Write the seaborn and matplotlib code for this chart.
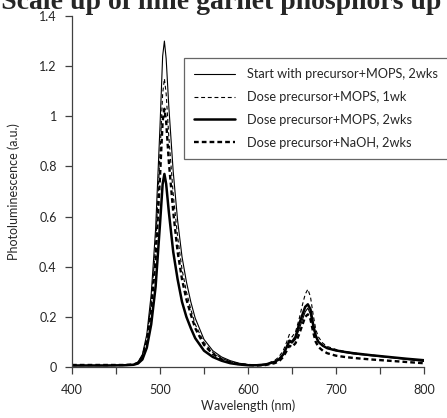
import matplotlib
matplotlib.use("Agg")
import matplotlib.pyplot as plt
import seaborn as sns
import pandas as pd
import numpy as np

wavelength = [400, 420, 440, 460, 470, 475, 480, 485, 490, 495, 500, 503, 505, 507, 510, 515, 520, 525, 530, 535, 540,
              550, 560, 570, 580, 590, 600, 610, 620, 630, 635, 640, 644, 647, 650, 654, 658, 662, 665, 668, 671, 674,
              677, 680, 685, 690, 700, 710, 720, 740, 760, 780, 800]

start_mops_2wks = [.006, .006, .006, .007, .010, .02, .05, .13, .29, .55, .96, 1.24, 1.30, 1.23, 1.04, .78, .585, .44, .34, .26, .195,
                   .11, .065, .04, .025, .015, .01, .008, .01, .02, .03, .05, .08, .10, .095, .11, .15, .19, .22, .235, .21, .16,
                   .12, .10, .085, .075, .065, .058, .052, .045, .038, .03, .022]
dose_mops_1wk = [.006, .006, .006, .007, .010, .018, .045, .115, .255, .485, .85, 1.09, 1.15, 1.09, .92, .69, .52, .39, .30, .23, .17,
                 .098, .058, .035, .021, .013, .009, .008, .012, .025, .04, .065, .10, .13, .12, .14, .19, .25, .29, .31, .28, .21,
                 .15, .12, .095, .082, .07, .062, .056, .048, .04, .032, .025]
dose_mops_2wks = [.006, .006, .006, .007, .009, .014, .03, .077, .17, .32, .57, .73, .77, .73, .62, .46, .35, .26, .20, .155, .115,
                  .065, .04, .025, .015, .01, .007, .007, .01, .02, .03, .05, .08, .105, .10, .12, .17, .21, .24, .25, .23, .17,
                  .125, .10, .085, .075, .066, .06, .055, .047, .04, .033, .027]
dose_naoh_2wks = [.008, .008, .008, .008, .010, .017, .04, .10, .23, .43, .76, .98, 1.03, .98, .82, .62, .46, .35, .27, .21, .155,
                  .088, .052, .031, .019, .011, .008, .006, .008, .015, .022, .04, .065, .085, .08, .095, .13, .17, .20, .21, .19, .14,
                  .10, .08, .065, .055, .045, .04, .036, .03, .025, .02, .015]

series_labels = ["Start with precursor+MOPS, 2wks", "Dose precursor+MOPS, 1wk",
                 "Dose precursor+MOPS, 2wks", "Dose precursor+NaOH, 2wks"]
series_values = [start_mops_2wks, dose_mops_1wk, dose_mops_2wks, dose_naoh_2wks]
x_ticks = [400, 500, 600, 700, 800]
y_ticks = [0, 0.2, 0.4, 0.6, 0.8, 1.0, 1.2, 1.4]

sns.set_theme(style="white")
plt.rcParams['font.family'] = ['Lato', 'DejaVu Sans']

fig = plt.figure(figsize=(4.47, 4.18), dpi=100)
ax = fig.add_axes([72/447, 1-367/418, (424-72)/447, (367-16)/418])

styles = [dict(lw=0.8, ls='-'), dict(lw=0.8, ls=(0, (3.5, 2.5))),
          dict(lw=1.8, ls='-'), dict(lw=1.7, ls=(0, (2, 1.3)))]
for lab, vals, st in zip(series_labels, series_values, styles):
    df = pd.DataFrame({"wl": wavelength, "pl": vals})
    sns.lineplot(data=df, x="wl", y="pl", ax=ax, color="black", label=lab,
                 linewidth=st['lw'], linestyle=st['ls'])

ax.set_xlim(400, 800)
ax.set_ylim(0, 1.4)
ax.set_xticks(x_ticks)
ax.set_xticks([450, 550, 650, 750], minor=True)
ax.set_yticks(y_ticks)
ax.set_yticklabels(["0", "0.2", "0.4", "0.6", "0.8", "1", "1.2", "1.4"])
ax.tick_params(axis='both', which='both', direction='out', length=5, width=0.9, color='#404040',
               labelsize=9, left=True, bottom=True)
ax.tick_params(axis='x', pad=7)
ax.tick_params(axis='y', pad=6)
for s in ['top', 'right']:
    ax.spines[s].set_visible(False)
for s in ['left', 'bottom']:
    ax.spines[s].set_color('#404040')
    ax.spines[s].set_linewidth(0.9)
ax.set_xlabel("Wavelength (nm)", fontsize=9, labelpad=3)
ax.set_ylabel("Photoluminescence (a.u.)", fontsize=9, labelpad=14)

leg = ax.legend(loc='upper left', bbox_to_anchor=(184/447, 1-58/418),
                bbox_transform=fig.transFigure, fontsize=9.2, frameon=True,
                fancybox=False, edgecolor='#404040', handlelength=3.2, handletextpad=0.9,
                borderpad=0.8, labelspacing=0.85, borderaxespad=0)
leg.get_frame().set_linewidth(0.9)

fig.text(0.495, 1-9/418, ": Scale up of lime garnet phosphors up t", ha='center', va='baseline',
         fontsize=20, fontweight='bold', family=['Liberation Serif'])

fig.savefig("out.png", dpi=100)
